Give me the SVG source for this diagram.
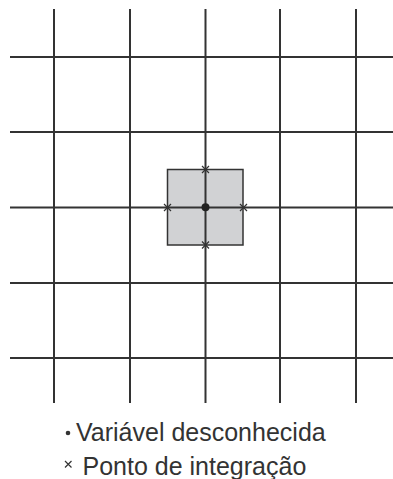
<svg xmlns="http://www.w3.org/2000/svg" width="393" height="479" viewBox="0 0 393 479">
<style>
.g{stroke:#333;stroke-width:2;fill:none}
.x{stroke:#333;stroke-width:1.2;fill:none}
.t{font-family:"Liberation Sans",Arial,sans-serif;fill:#333;font-size:25px}
</style>
<rect width="393" height="479" fill="#fff"/>
<g id="connectors" class="g">
<line x1="54" y1="9" x2="54" y2="403"/>
<line x1="130" y1="9" x2="130" y2="403"/>
<line x1="280" y1="9" x2="280" y2="403"/>
<line x1="356" y1="9" x2="356" y2="403"/>
<line x1="10" y1="57" x2="393" y2="57"/>
<line x1="10" y1="132" x2="393" y2="132"/>
<line x1="10" y1="283" x2="393" y2="283"/>
<line x1="10" y1="358" x2="393" y2="358"/>
</g>
<g id="cell">
<rect x="167.5" y="169.5" width="75.5" height="75.5" fill="#d1d2d4" stroke="#333" stroke-width="1.5"/>
</g>
<g id="axes" class="g">
<line x1="205.5" y1="9" x2="205.5" y2="403"/>
<line x1="10" y1="207.5" x2="393" y2="207.5"/>
</g>
<g id="node">
<circle cx="205.5" cy="207.3" r="4" fill="#222"/>
</g>
<g id="ips" class="x">
<path d="M202,166 l7,7 M209,166 l-7,7"/>
<path d="M202,241.5 l7,7 M209,241.5 l-7,7"/>
<path d="M164,204 l7,7 M171,204 l-7,7"/>
<path d="M240,204 l7,7 M247,204 l-7,7"/>
</g>
<g id="legend">
<circle cx="68" cy="433" r="2.3" fill="#333"/>
<text class="t" x="76" y="441">Variável desconhecida</text>
<path class="x" d="M65,461 l6.5,6.5 M71.5,461 l-6.5,6.5"/>
<text class="t" x="82.5" y="475">Ponto de integração</text>
</g>
</svg>
